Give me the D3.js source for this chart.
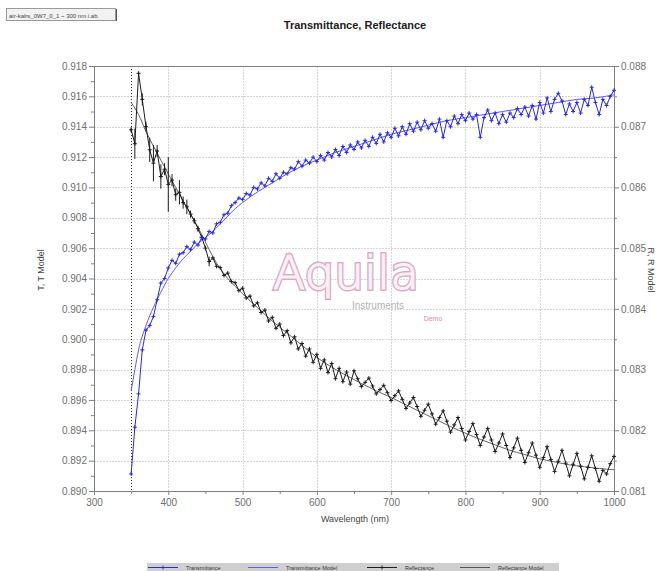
<!DOCTYPE html>
<html><head><meta charset="utf-8">
<script src="https://cdn.jsdelivr.net/npm/d3@7/dist/d3.min.js"></script>
<style>body{margin:0;background:#fff}svg{display:block;font-family:"Liberation Sans",Arial,sans-serif}</style>
</head><body><svg id="c" width="659" height="571"></svg>
<script>
const wavelengths = [
350,355,360,365,370,375,380,385,390,395,
400,405,410,415,420,425,430,435,440,445,
450,455,460,465,470,475,480,485,490,495,
500,505,510,515,520,525,530,535,540,545,
550,555,560,565,570,575,580,585,590,595,
600,605,610,615,620,625,630,635,640,645,
650,655,660,665,670,675,680,685,690,695,
700,705,710,715,720,725,730,735,740,745,
750,755,760,765,770,775,780,785,790,795,
800,805,810,815,820,825,830,835,840,845,
850,855,860,865,870,875,880,885,890,895,
900,905,910,915,920,925,930,935,940,945,
950,955,960,965,970,975,980,985,990,995,
1000];
const transmittance = [
0.89112,0.89420,0.89640,0.89930,0.90060,0.90090,0.90150,0.90260,0.90370,0.90400,
0.90470,0.90520,0.90500,0.90560,0.90570,0.90610,0.90590,0.90640,0.90620,0.90670,
0.90660,0.90710,0.90700,0.90760,0.90770,0.90820,0.90830,0.90880,0.90900,0.90930,
0.90920,0.90960,0.90950,0.91000,0.90990,0.91030,0.91010,0.91060,0.91040,0.91090,
0.91060,0.91100,0.91090,0.91130,0.91120,0.91170,0.91140,0.91180,0.91160,0.91200,
0.91170,0.91210,0.91180,0.91230,0.91200,0.91250,0.91210,0.91270,0.91230,0.91280,
0.91250,0.91300,0.91260,0.91310,0.91270,0.91330,0.91290,0.91350,0.91300,0.91360,
0.91330,0.91390,0.91340,0.91400,0.91350,0.91420,0.91370,0.91430,0.91380,0.91440,
0.91390,0.91420,0.91370,0.91450,0.91330,0.91440,0.91400,0.91470,0.91420,0.91480,
0.91440,0.91490,0.91450,0.91480,0.91330,0.91460,0.91510,0.91440,0.91490,0.91420,
0.91480,0.91430,0.91490,0.91460,0.91520,0.91480,0.91530,0.91470,0.91540,0.91450,
0.91560,0.91490,0.91590,0.91500,0.91580,0.91620,0.91570,0.91480,0.91550,0.91500,
0.91560,0.91490,0.91580,0.91540,0.91660,0.91560,0.91480,0.91580,0.91540,0.91600,
0.91640];
const reflectance = [
0.08695,0.08672,0.08788,0.08745,0.08700,0.08662,0.08640,0.08660,0.08618,0.08630,
0.08605,0.08612,0.08588,0.08592,0.08575,0.08568,0.08556,0.08545,0.08532,0.08518,
0.08500,0.08478,0.08484,0.08470,0.08468,0.08455,0.08459,0.08445,0.08443,0.08430,
0.08434,0.08418,0.08421,0.08405,0.08410,0.08394,0.08398,0.08380,0.08386,0.08368,
0.08375,0.08356,0.08364,0.08344,0.08354,0.08334,0.08343,0.08322,0.08334,0.08312,
0.08325,0.08302,0.08316,0.08295,0.08310,0.08285,0.08302,0.08280,0.08296,0.08276,
0.08298,0.08285,0.08272,0.08279,0.08286,0.08273,0.08260,0.08267,0.08274,0.08262,
0.08249,0.08257,0.08265,0.08251,0.08236,0.08245,0.08254,0.08239,0.08223,0.08233,
0.08243,0.08227,0.08210,0.08221,0.08232,0.08215,0.08197,0.08209,0.08221,0.08203,
0.08184,0.08198,0.08211,0.08193,0.08175,0.08189,0.08203,0.08184,0.08165,0.08179,
0.08194,0.08175,0.08155,0.08171,0.08187,0.08167,0.08147,0.08163,0.08179,0.08159,
0.08139,0.08155,0.08173,0.08152,0.08132,0.08149,0.08167,0.08146,0.08125,0.08144,
0.08162,0.08141,0.08120,0.08139,0.08158,0.08137,0.08116,0.08134,0.08128,0.08145,
0.08157];
// error half-widths for the first reflectance points (350..455 nm)
const reflectanceErr = [
0.00004,0.00025,0.00003,0.00010,0.00008,0.00020,0.00030,0.00010,0.00020,0.00010,
0.00045,0.00010,0.00010,0.00020,0.00010,0.00012,0.00006,0.00005,0.00005,0.00004,
0.00004,0.00008];
const modelWavelengthsT = [350,355,360,370,380,390,400,410,420,430,440,450,460,470,480,490,500,520,540,560,580,600,625,650,675,700,725,750,775,800,825,850,875,900,925,950,975,1000];
const transmittanceModel = [0.8966,0.8980,0.8993,0.9009,0.9021,0.9031,0.9040,0.9047,0.9053,0.9058,0.9063,0.9067,0.9071,0.9076,0.9081,0.9086,0.9090,0.9097,0.9103,0.9109,0.9114,0.9118,0.9123,0.9127,0.9131,0.9135,0.9138,0.9141,0.9144,0.9146,0.9148,0.9150,0.9152,0.9154,0.9156,0.9158,0.9159,0.9161];
const modelWavelengthsR = [350,360,370,380,390,400,410,420,430,440,450,460,470,480,490,500,520,540,560,580,600,620,640,660,680,700,720,740,760,780,800,820,840,860,880,900,920,940,960,980,1000];
const reflectanceModel = [0.08740,0.08720,0.08692,0.08668,0.08645,0.08622,0.08600,0.08578,0.08556,0.08534,0.08510,0.08486,0.08466,0.08450,0.08437,0.08425,0.08402,0.08380,0.08360,0.08340,0.08320,0.08304,0.08290,0.08277,0.08265,0.08254,0.08242,0.08230,0.08218,0.08206,0.08195,0.08185,0.08176,0.08167,0.08160,0.08153,0.08148,0.08143,0.08140,0.08137,0.08135];
const xTicks = [300,400,500,600,700,800,900,1000];
const xMinorTicks = [350,450,550,650,750,850,950];
const leftTicks = [0.890,0.892,0.894,0.896,0.898,0.900,0.902,0.904,0.906,0.908,0.910,0.912,0.914,0.916,0.918];
const leftMinorTicks = [0.891,0.893,0.895,0.897,0.899,0.901,0.903,0.905,0.907,0.909,0.911,0.913,0.915,0.917];
const rightTicks = [0.081,0.082,0.083,0.084,0.085,0.086,0.087,0.088];
const rightMinorTicks = [0.0815,0.0825,0.0835,0.0845,0.0855,0.0865,0.0875];
const legendLabels = ["Transmittance","Transmittance Model","Reflectance","Reflectance Model"];
const titleText = "Transmittance, Reflectance";
const fileLabel = "air-kalrs_0W7_0_1 ~ 300 nm i.ab";

const svg = d3.select("#c");
const L=94,R=614,T=66,B=491;
const x = d3.scaleLinear([300,1000],[L,R]);
const yL = d3.scaleLinear([0.890,0.918],[B,T]);
const yR = d3.scaleLinear([0.081,0.088],[B,T]);
const blue="#2828f0", dark="#1e1e1e", axisCol="#808080", txtCol="#707070";

// file label box
svg.append("rect").attr("x",6.5).attr("y",8.5).attr("width",109).attr("height",12).attr("fill","#f2f2f2").attr("stroke","#9a9a9a");
svg.append("line").attr("x1",116.5).attr("x2",116.5).attr("y1",9).attr("y2",21).attr("stroke","#555");
svg.append("text").attr("x",9).attr("y",17.5).attr("font-size",6).attr("fill","#444").text(fileLabel);

// title
svg.append("text").attr("x",355).attr("y",29).attr("text-anchor","middle").attr("font-size",11).attr("font-weight","bold").attr("fill","#222").text(titleText);

// grid
const g = svg.append("g");
g.selectAll(".hg").data(leftTicks.slice(1,-1)).join("line")
 .attr("x1",L).attr("x2",R).attr("y1",d=>Math.round(yL(d))+0.5).attr("y2",d=>Math.round(yL(d))+0.5)
 .attr("stroke","#d6d6d6").attr("stroke-dasharray","2,1");
g.selectAll(".vg").data(xTicks.slice(1,-1)).join("line")
 .attr("y1",T).attr("y2",B).attr("x1",d=>Math.round(x(d))+0.5).attr("x2",d=>Math.round(x(d))+0.5)
 .attr("stroke","#d6d6d6").attr("stroke-dasharray","2,1");
// dotted vertical at 350 nm
g.append("line").attr("x1",Math.round(x(350))+0.5).attr("x2",Math.round(x(350))+0.5).attr("y1",T).attr("y2",B)
 .attr("stroke","#333").attr("stroke-dasharray","1,2");

// watermark
const wm = svg.append("g");
wm.append("text").attr("x",346).attr("y",289).attr("text-anchor","middle").attr("font-size",47).attr("font-family","'DejaVu Sans',sans-serif").attr("font-weight",300)
 .attr("fill","none").attr("stroke","#dcaac8").attr("stroke-width",4).text("Aquila");
wm.append("text").attr("x",346).attr("y",289).attr("text-anchor","middle").attr("font-size",47).attr("font-family","'DejaVu Sans',sans-serif").attr("font-weight",300)
 .attr("fill","#fbf1f6").attr("stroke","#fbf1f6").attr("stroke-width",1.2).text("Aquila");
wm.append("text").attr("x",378).attr("y",309).attr("text-anchor","middle").attr("font-size",10).attr("fill","#b5b5b5").text("Instruments");
wm.append("text").attr("x",433).attr("y",321).attr("text-anchor","middle").attr("font-size",7).attr("fill","#e08ab5").text("Demo");

// axes frame
svg.append("line").attr("x1",L).attr("x2",R).attr("y1",T+0.5).attr("y2",T+0.5).attr("stroke",axisCol);
const axL = d3.axisLeft(yL).tickValues(leftTicks).tickFormat(d3.format(".3f")).tickSize(5).tickPadding(2);
const axLm = d3.axisLeft(yL).tickValues(leftMinorTicks).tickFormat("").tickSize(3);
const axR = d3.axisRight(yR).tickValues(rightTicks).tickFormat(d3.format(".3f")).tickSize(5).tickPadding(2);
const axRm = d3.axisRight(yR).tickValues(rightMinorTicks).tickFormat("").tickSize(3);
const axB = d3.axisBottom(x).tickValues(xTicks).tickFormat(d3.format("d")).tickSize(4).tickPadding(4);
const axBm = d3.axisBottom(x).tickValues(xMinorTicks).tickFormat("").tickSize(3);
function style(sel){sel.selectAll("path,line").attr("stroke",axisCol);sel.selectAll("text").attr("fill",txtCol).attr("font-size",10).attr("font-family","'Liberation Sans',Arial,sans-serif");}
svg.append("g").attr("transform",`translate(${L},0)`).call(axL).call(style);
svg.append("g").attr("transform",`translate(${L},0)`).call(axLm).call(style);
svg.append("g").attr("transform",`translate(${R},0)`).call(axR).call(style);
svg.append("g").attr("transform",`translate(${R},0)`).call(axRm).call(style);
svg.append("g").attr("transform",`translate(0,${B})`).call(axB).call(style);
svg.append("g").attr("transform",`translate(0,${B})`).call(axBm).call(style);

// axis titles
svg.append("text").attr("x",355).attr("y",522).attr("text-anchor","middle").attr("font-size",9).attr("fill","#444").text("Wavelength (nm)");
svg.append("text").attr("transform","translate(44,270) rotate(-90)").attr("text-anchor","middle").attr("font-size",9).attr("fill","#444").text("T, T Model");
svg.append("text").attr("transform","translate(648,270) rotate(90)").attr("text-anchor","middle").attr("font-size",9).attr("fill","#444").text("R, R Model");

// data
const tData = wavelengths.map((w,i)=>({w,v:transmittance[i]}));
const rData = wavelengths.map((w,i)=>({w,v:reflectance[i],e:reflectanceErr[i]||0}));
const tModel = modelWavelengthsT.map((w,i)=>({w,v:transmittanceModel[i]}));
const rModel = modelWavelengthsR.map((w,i)=>({w,v:reflectanceModel[i]}));

const lineT = d3.line().x(d=>x(d.w)).y(d=>yL(d.v));
const lineR = d3.line().x(d=>x(d.w)).y(d=>yR(d.v));
const lineTm = d3.line().x(d=>x(d.w)).y(d=>yL(d.v)).curve(d3.curveMonotoneX);
const lineRm = d3.line().x(d=>x(d.w)).y(d=>yR(d.v)).curve(d3.curveMonotoneX);

const plot = svg.append("g");
plot.append("path").datum(rModel).attr("d",lineRm).attr("fill","none").attr("stroke","#666").attr("stroke-width",1);
plot.append("path").datum(tModel).attr("d",lineTm).attr("fill","none").attr("stroke","#5a5aff").attr("stroke-width",1);
plot.append("path").datum(rData).attr("d",lineR).attr("fill","none").attr("stroke",dark).attr("stroke-width",1);
plot.append("path").datum(tData).attr("d",lineT).attr("fill","none").attr("stroke",blue).attr("stroke-width",1);
// error bars
plot.selectAll(".eb").data(rData.filter(d=>d.e>0)).join("line")
 .attr("x1",d=>x(d.w)).attr("x2",d=>x(d.w)).attr("y1",d=>yR(d.v-d.e)).attr("y2",d=>yR(d.v+d.e)).attr("stroke",dark).attr("stroke-width",1);
// markers
function cross(sel,data,xs,ys,col){
  const m = sel.selectAll(null).data(data).join("g").attr("transform",d=>`translate(${xs(d)},${ys(d)})`);
  m.append("line").attr("x1",-2).attr("x2",2).attr("stroke",col);
  m.append("line").attr("y1",-2).attr("y2",2).attr("stroke",col);
}
cross(plot,rData,d=>x(d.w),d=>yR(d.v),dark);
cross(plot,tData,d=>x(d.w),d=>yL(d.v),blue);

// legend
const lg = svg.append("g");
lg.append("rect").attr("x",147).attr("y",563).attr("width",412).attr("height",12).attr("fill","#cfcfcf");
const legX = [148,248,367,460];
const legCol = [blue,"#5a5aff",dark,"#555"];
const legMark = [true,false,true,false];
legendLabels.forEach((lab,i)=>{
  const y0=567.5;
  lg.append("line").attr("x1",legX[i]).attr("x2",legX[i]+30).attr("y1",y0).attr("y2",y0).attr("stroke",legCol[i]);
  if(legMark[i]){lg.append("line").attr("x1",legX[i]+15).attr("x2",legX[i]+15).attr("y1",y0-2).attr("y2",y0+2).attr("stroke",legCol[i]);}
  lg.append("text").attr("x",legX[i]+38).attr("y",569.5).attr("font-size",5.5).attr("fill","#333").text(lab);
});
</script></body></html>
